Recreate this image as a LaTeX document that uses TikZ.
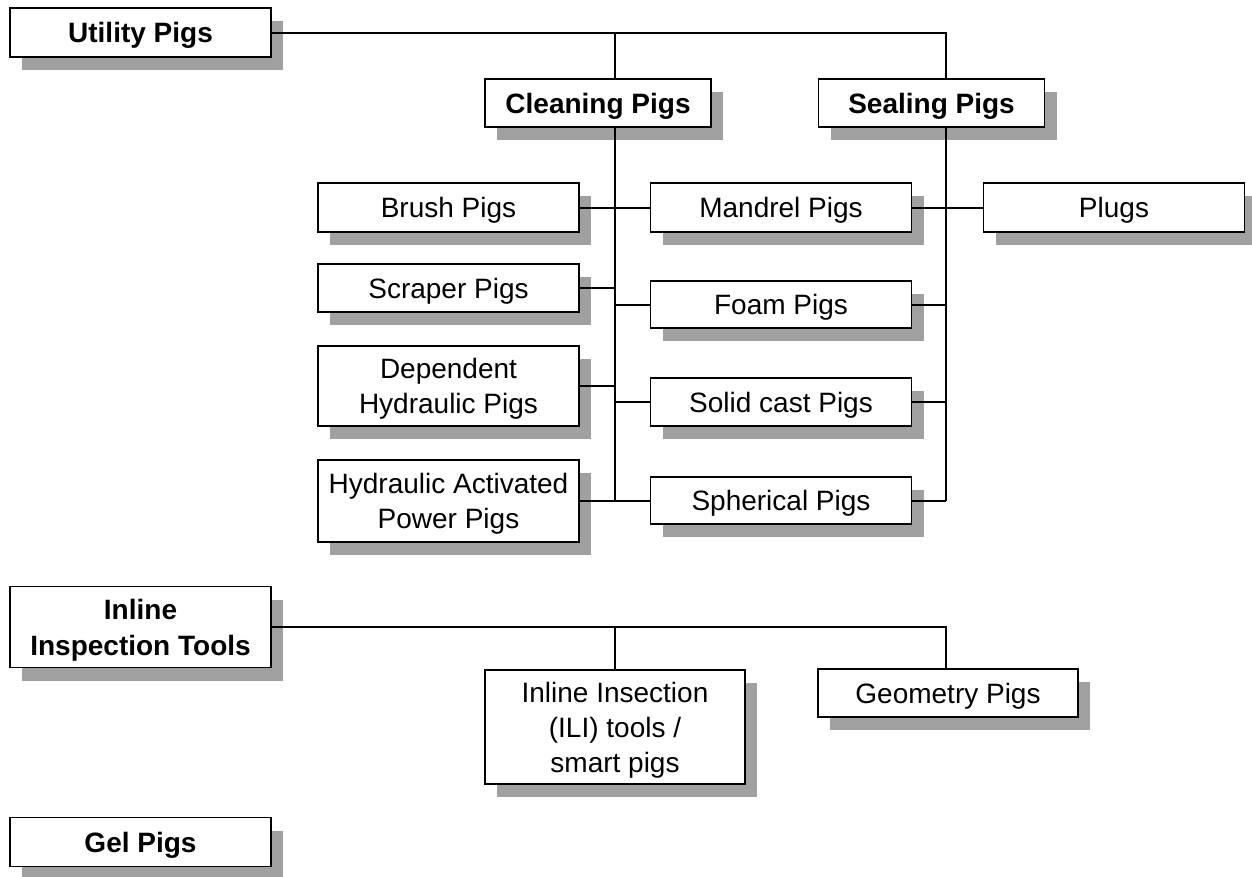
\documentclass[tikz,border=0pt]{standalone}
\usepackage{fontspec}
\setmainfont{Liberation Sans}
\usepackage{tikz}
\usetikzlibrary{positioning, shadows, calc}

\definecolor{shadowgray}{HTML}{A0A0A0}

\begin{document}
\begin{tikzpicture}[
    x=0.75pt, y=-0.75pt,
    pigbox/.style={rectangle, draw=black, fill=white, line width=1.1pt,
                   minimum width=195.75pt, minimum height=36.75pt, inner sep=0pt,
                   text depth=0pt, align=center, font=\fontsize{21}{26.25}\selectfont,
                   drop shadow={shadow xshift=9pt, shadow yshift=-9.75pt,
                                fill=shadowgray, opacity=1}},
    mainbox/.style={pigbox, font=\fontsize{21}{27}\selectfont\bfseries},
    link/.style={line width=1.5pt}
]
    \useasboundingbox (0,0) rectangle (1252,876);

    % Top level groups
    \node[mainbox] (util) at (140.5, 32.5) {Utility Pigs};
    \node[mainbox, minimum height=60.75pt] (ilit) at (140.5, 627) {Inline\\Inspection Tools};
    \node[mainbox] (gel) at (140.5, 842) {Gel Pigs};

    % Utility pig families
    \node[mainbox, minimum width=169.5pt, minimum height=36pt] (clean) at (598, 103) {Cleaning Pigs};
    \node[mainbox, minimum width=169.5pt, minimum height=36pt] (seal) at (931.5, 103) {Sealing Pigs};

    % Cleaning pigs
    \node[pigbox] (brush) at (448.5, 207.5) {Brush Pigs};
    \node[pigbox, minimum height=36pt] (scraper) at (448.5, 288) {Scraper Pigs};
    \node[pigbox, minimum height=60pt] (dep) at (448.5, 386) {Dependent\\Hydraulic Pigs};
    \node[pigbox, minimum height=61.5pt] (hap) at (448.5, 501) {Hydraulic Activated\\Power Pigs};

    % Shared cleaning / sealing pigs
    \node[pigbox] (mandrel) at (781, 207.5) {Mandrel Pigs};
    \node[pigbox, minimum height=35.25pt] (foam) at (781, 304.5) {Foam Pigs};
    \node[pigbox, minimum height=36pt] (solid) at (781, 402) {Solid cast Pigs};
    \node[pigbox, minimum height=35.25pt] (spher) at (781, 500.5) {Spherical Pigs};

    % Sealing pigs
    \node[pigbox] (plugs) at (1114, 207.5) {Plugs};

    % Inspection tools
    \node[pigbox, minimum width=195pt, minimum height=85.5pt] (ili) at (615, 727) {Inline Insection\\(ILI) tools /\\smart pigs};
    \node[pigbox, minimum width=195pt, minimum height=36pt] (geom) at (948, 693) {Geometry Pigs};

    % Bus lines
    \coordinate (cx) at (615, 0);
    \coordinate (sx) at (946, 0);

    \draw[link] (util.east) -| (sx |- seal.north);
    \draw[link] (cx |- util.east) -- (cx |- clean.north);
    \draw[link] (cx |- clean.south) -- (cx |- hap.east);
    \draw[link] (sx |- seal.south) -- (sx |- spher.east);

    % Branches
    \draw[link] (brush.east) -- (mandrel.west);
    \draw[link] (mandrel.east) -- (plugs.west);
    \draw[link] (scraper.east) -- (cx |- scraper.east);
    \draw[link] (dep.east) -- (cx |- dep.east);
    \draw[link] (hap.east) -- (cx |- hap.east);
    \foreach \n in {foam, solid, spher} {
        \draw[link] (\n.west) -- (cx |- \n.west);
        \draw[link] (\n.east) -- (sx |- \n.east);
    }

    \draw[link] (ilit.east) -| (sx |- geom.north);
    \draw[link] (cx |- ilit.east) -- (ili.north);

\end{tikzpicture}
\end{document}
